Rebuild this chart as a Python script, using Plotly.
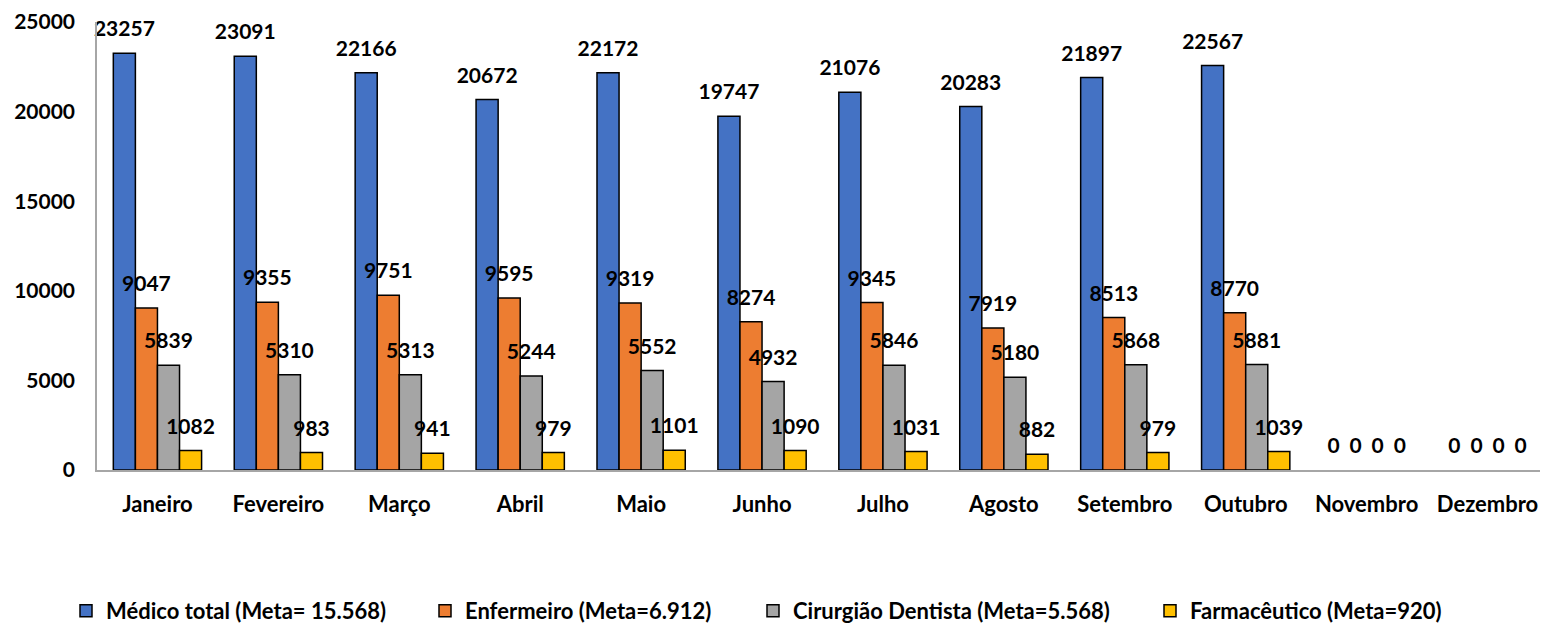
import plotly.graph_objects as go

months = ["Janeiro", "Fevereiro", "Março", "Abril", "Maio", "Junho", "Julho",
          "Agosto", "Setembro", "Outubro", "Novembro", "Dezembro"]
medico = [23257, 23091, 22166, 20672, 22172, 19747, 21076, 20283, 21897, 22567, 0, 0]
enfermeiro = [9047, 9355, 9751, 9595, 9319, 8274, 9345, 7919, 8513, 8770, 0, 0]
dentista = [5839, 5310, 5313, 5244, 5552, 4932, 5846, 5180, 5868, 5881, 0, 0]
farmaceutico = [1082, 983, 941, 979, 1101, 1090, 1031, 882, 979, 1039, 0, 0]

series_names = ["Médico total (Meta= 15.568)", "Enfermeiro (Meta=6.912)",
                "Cirurgião Dentista (Meta=5.568)", "Farmacêutico (Meta=920)"]
series_values = [medico, enfermeiro, dentista, farmaceutico]
colors = ["#4472C4", "#ED7D31", "#A5A5A5", "#FFC000"]
y_ticks = [0, 5000, 10000, 15000, 20000, 25000]
y_tick_labels = ["0", "5000", "10000", "15000", "20000", "25000"]

FONT = "Lato"
NUM_SIZE = 21
WORD_SIZE = 22
GAP = 0.27

# page has an 8px body margin; compensate so the plot lands where the reference has it
W, H = 1540, 615
ML, MT, MR, MB = 89, 14, 0, 153
plot_w = W - ML - MR
plot_h = H - MT - MB

legend_names = ["legend", "legend2", "legend3", "legend4"]
legend_text_x = [106, 465, 793, 1190]  # page x where each legend text starts

fig = go.Figure()
for i, (name, vals, col) in enumerate(zip(series_names, series_values, colors)):
    fig.add_trace(go.Bar(
        x=months, y=vals, name=name, legend=legend_names[i],
        offsetgroup=str(i),
        marker=dict(color=col, line=dict(color="black",
                                         width=[1.5 if v else 0 for v in vals])),
        hovertemplate="%{x}: %{y}<extra></extra>",
    ))
for i, vals in enumerate(series_values):
    fig.add_trace(go.Scatter(
        x=months, y=vals, mode="markers+text", showlegend=False,
        offsetgroup=str(i),
        text=[str(v) for v in vals], textposition="top center",
        textfont=dict(family=FONT, size=NUM_SIZE, color="black", weight="bold"),
        marker=dict(size=17, opacity=0), cliponaxis=False, hoverinfo="skip",
    ))

layout_legends = {}
for i, ln in enumerate(legend_names):
    layout_legends[ln] = dict(
        orientation="h", x=(legend_text_x[i] - 40 - 8 - ML) / plot_w, xanchor="left",
        y=-(611 - 8 - (MT + plot_h)) / plot_h, yanchor="middle",
        font=dict(family=FONT, size=WORD_SIZE, color="black", weight="bold"),
        itemwidth=30, bgcolor="rgba(0,0,0,0)",
    )

fig.update_layout(
    barmode="group", bargap=GAP, bargroupgap=0,
    scattermode="group", scattergap=GAP,
    width=W, height=H,
    margin=dict(l=ML, r=MR, t=MT, b=MB, autoexpand=False),
    plot_bgcolor="white", paper_bgcolor="white",
    font=dict(family=FONT, size=WORD_SIZE, color="black"),
    showlegend=True,
    **layout_legends,
)
fig.update_xaxes(showline=True, linecolor="#A6A6A6", linewidth=1.5, showgrid=False,
                 tickfont=dict(family=FONT, size=WORD_SIZE, color="black", weight="bold"),
                 ticks="", ticklabelstandoff=14, automargin=False)
fig.update_yaxes(range=[0, 25000], tickvals=y_ticks, ticktext=y_tick_labels,
                 showline=True, linecolor="#A6A6A6",
                 linewidth=1.5, showgrid=False, zeroline=False,
                 tickfont=dict(family=FONT, size=NUM_SIZE, color="black", weight="bold"),
                 ticks="", ticklabelstandoff=16, automargin=False)

fig.write_html("out.html")
